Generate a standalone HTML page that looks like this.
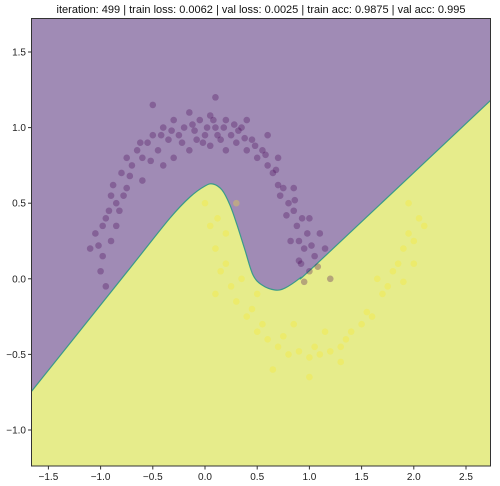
<!DOCTYPE html>
<html><head><meta charset="utf-8"><style>
body{margin:0;background:#fff;}
svg{display:block;font-family:"Liberation Sans","DejaVu Sans",sans-serif;}
</style></head><body>
<svg id="chart" width="500" height="486" xmlns="http://www.w3.org/2000/svg">
<text x="261" y="13" font-size="11" text-anchor="middle" fill="#111">iteration: 499 | train loss: 0.0062 | val loss: 0.0025 | train acc: 0.9875 | val acc: 0.995</text>
<defs><clipPath id="clip"><rect x="31.5" y="18.5" width="459" height="447.5"/></clipPath></defs>
<g id="plot" clip-path="url(#clip)"></g>
<rect x="31.5" y="18.5" width="459" height="447.5" fill="none" stroke="#333" stroke-width="1"/>
<g id="axes"></g>
</svg>
<script>
const boundaryX=[-1.7,-1.667,-0.718,-0.335,-0.144,0,0.077,0.163,0.239,0.307,0.383,0.46,0.546,0.67,0.766,0.91,1.1,2.74,2.8];
const boundaryY=[-0.78,-0.749,0.071,0.402,0.541,0.614,0.627,0.587,0.488,0.356,0.19,0.025,-0.041,-0.074,-0.061,0.005,0.118,1.183,1.22];
const purplePts=[[-1.05,0.3],[-0.98,0.15],[-1.0,0.05],[-0.95,0.4],[-0.9,0.55],[-0.85,0.5],[-0.8,0.7],[-0.75,0.6],[-0.7,0.75],[-0.65,0.85],[-0.6,0.8],[-0.55,0.9],[-0.5,0.95],[-0.45,0.85],[-0.4,1.0],[-0.35,0.92],[-0.3,1.05],[-0.25,0.95],[-0.2,1.0],[-0.15,1.1],[-0.1,0.98],[-0.05,1.05],[0.0,0.95],[0.05,1.08],[0.1,1.0],[0.15,0.92],[0.2,1.05],[0.25,0.95],[0.3,0.9],[0.35,1.0],[0.4,0.85],[0.45,0.92],[0.5,0.8],[0.55,0.85],[0.6,0.75],[0.65,0.7],[0.7,0.62],[0.75,0.6],[0.8,0.5],[0.85,0.45],[0.88,0.35],[0.9,0.25],[0.95,0.2],[0.92,0.1],[1.0,0.05],[0.95,-0.02],[1.05,0.15],[1.1,0.3],[1.15,0.2],[-0.9,0.25],[-1.1,0.2],[-0.95,-0.05],[-0.75,0.8],[-0.3,0.8],[0.1,1.2],[-0.5,1.15],[0.7,0.8],[0.85,0.6],[1.0,0.4],[1.2,0.0],[-0.6,0.65],[0.2,0.85],[0.6,0.95],[-0.15,0.85],[-0.85,0.35],[0.4,1.05],[0.05,0.88],[-0.4,0.75],[0.78,0.42],[0.82,0.25],
[-1.02,0.22],[-0.92,0.45],[-0.88,0.62],[-0.78,0.55],[-0.72,0.68],[-0.62,0.9],[-0.52,0.78],[-0.42,0.95],[-0.32,0.98],[-0.22,0.9],[-0.12,1.02],[-0.02,0.9],[0.08,1.05],[0.12,0.95],[0.18,1.0],[0.28,1.02],[0.38,0.93],[0.48,0.88],[0.58,0.82],[0.68,0.72],[0.72,0.55],[0.86,0.52],[0.93,0.4],[0.98,0.3],[1.02,0.22],[0.9,0.12],[1.08,0.08],[-0.98,0.35],[-0.82,0.45],[0.02,1.0],[-0.08,0.92],[0.32,0.98]];
const yellowPts=[[0.0,0.5],[0.05,0.35],[0.1,0.2],[0.12,0.4],[0.15,0.05],[0.2,0.1],[0.25,-0.05],[0.3,-0.15],[0.35,0.0],[0.4,-0.25],[0.45,-0.2],[0.5,-0.35],[0.55,-0.3],[0.6,-0.4],[0.7,-0.45],[0.75,-0.38],[0.8,-0.5],[0.9,-0.48],[1.0,-0.52],[1.05,-0.45],[1.1,-0.5],[1.2,-0.48],[1.3,-0.45],[1.35,-0.4],[1.4,-0.35],[1.5,-0.3],[1.55,-0.22],[1.6,-0.25],[1.7,-0.1],[1.75,-0.05],[1.8,0.05],[1.85,0.1],[1.9,0.2],[1.95,0.3],[2.0,0.25],[2.05,0.4],[1.95,0.5],[2.1,0.35],[1.9,-0.02],[0.65,-0.6],[1.0,-0.65],[1.3,-0.55],[1.15,-0.35],[0.85,-0.3],[0.2,0.3],[0.3,0.5],[1.65,0.0],[2.0,0.1],[0.1,-0.1],[0.5,-0.1]];
const xTicks=[-1.5,-1.0,-0.5,0.0,0.5,1.0,1.5,2.0,2.5];
const xTickLabels=["\u22121.5","\u22121.0","\u22120.5","0.0","0.5","1.0","1.5","2.0","2.5"];
const yTicks=[1.5,1.0,0.5,0.0,-0.5,-1.0];
const yTickLabels=["1.5","1.0","0.5","0.0","\u22120.5","\u22121.0"];

const sx=v=>205+v*104.4;
const sy=v=>278.8-v*151.2;
const NS="http://www.w3.org/2000/svg";
const plot=document.getElementById('plot');
const axes=document.getElementById('axes');
function mk(tag,attrs,parent){const e=document.createElementNS(NS,tag);for(const k in attrs)e.setAttribute(k,attrs[k]);parent.appendChild(e);return e;}

const bg=mk('rect',{x:31.5,y:18.5,width:459,height:447.5,fill:'#a08bb5'},plot);


const P=boundaryX.map((x,i)=>[sx(x),sy(boundaryY[i])]);
let d='M'+P[0][0]+','+P[0][1];
for(let i=0;i<P.length-1;i++){const p0=P[Math.max(i-1,0)],p1=P[i],p2=P[i+1],p3=P[Math.min(i+2,P.length-1)];
const c1=[p1[0]+(p2[0]-p0[0])/6,p1[1]+(p2[1]-p0[1])/6],c2=[p2[0]-(p3[0]-p1[0])/6,p2[1]-(p3[1]-p1[1])/6];
d+=' C'+c1[0]+','+c1[1]+' '+c2[0]+','+c2[1]+' '+p2[0]+','+p2[1];}
const yReg=mk('path',{d:d+' L'+sx(2.8)+','+sy(-1.4)+' L'+sx(-1.7)+','+sy(-1.4)+' Z',fill:'#e6ec8b'},plot);


const bl=mk('path',{d:d,fill:'none',stroke:'#3a9a8a',"stroke-width":1.2},plot);


purplePts.forEach(p=>{const c=mk('circle',{cx:sx(p[0]),cy:sy(p[1]),r:3.3,fill:'rgba(68,1,84,0.3)'},plot);

});
yellowPts.forEach(p=>{const c=mk('circle',{cx:sx(p[0]),cy:sy(p[1]),r:3.3,fill:'rgba(253,231,37,0.3)'},plot);

});

xTicks.forEach((v,i)=>{const x=sx(v);
const t=mk('line',{x1:x,x2:x,y1:466,y2:469.5,stroke:'#333'},axes);


const l=mk('text',{x:x,y:480,"font-size":10,"text-anchor":"middle",fill:'#222'},axes);l.textContent=xTickLabels[i];

});
yTicks.forEach((v,i)=>{const y=sy(v);
const t=mk('line',{x1:28,x2:31.5,y1:y,y2:y,stroke:'#333'},axes);


const l=mk('text',{x:26,y:y+3.5,"font-size":10,"text-anchor":"end",fill:'#222'},axes);l.textContent=yTickLabels[i];

});
</script>
</body></html>
